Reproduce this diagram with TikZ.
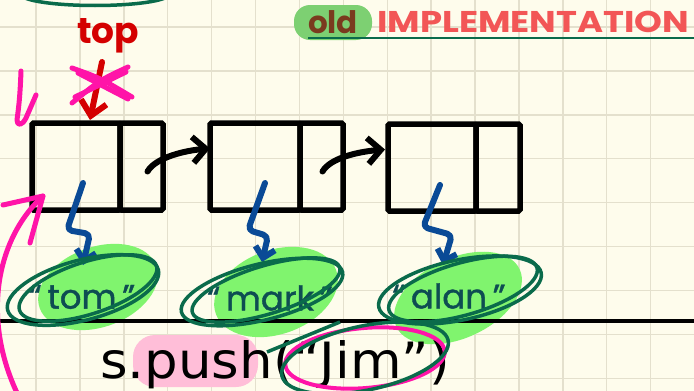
\documentclass[tikz,border=0pt]{standalone}
\usepackage{fontspec}
\usepackage{graphicx}
\setmainfont{DejaVu Sans}
\newfontfamily\hand{Poppins}
\newfontfamily\handm[FakeBold=1.2]{Poppins}
\usetikzlibrary{arrows.meta}
\definecolor{bg}{HTML}{FEFCEC}
\definecolor{gridc}{HTML}{E4E0CD}
\definecolor{redtop}{HTML}{D40000}
\definecolor{hotpink}{HTML}{FF14A8}
\definecolor{penblue}{HTML}{0A4A96}
\definecolor{dkgreen}{HTML}{0A6B4B}
\definecolor{ltgreen}{HTML}{80F46E}
\definecolor{teal}{HTML}{0E4D52}
\definecolor{salmon}{HTML}{F25656}
\definecolor{brownold}{HTML}{7A3B1E}
\definecolor{oldgreen}{HTML}{7DD072}
\definecolor{pinkhl}{HTML}{FFBED8}
\tikzset{
  gridline/.style={draw=gridc, line width=1.4pt},
  cell/.style={draw=black, line width=5.5pt, minimum height=87pt, inner sep=0pt, outer sep=0pt, rounded corners=1.5pt},
  pen/.style={line width=6pt, line cap=round, line join=round},
  blkarrow/.style={pen, draw=black, -{Straight Barb[length=13pt,width=26pt]}},
  bluearrow/.style={pen, draw=penblue, rounded corners=5pt, -{Straight Barb[length=10pt,width=20pt]}},
  lbl/.style={text=teal, inner sep=0pt, font=\handm\fontsize{34}{34}\selectfont},
  ring/.style={draw=dkgreen, line width=3.5pt},
  pinkpen/.style={draw=hotpink, line width=5pt, line cap=round, line join=round},
}
\begin{document}
\begin{tikzpicture}[x=1pt,y=-1pt]
\useasboundingbox (0,0) rectangle (694,391);
\fill[bg] (0,0) rectangle (694,391);
\begin{scope}
\clip (0,0) rectangle (694,391);
\foreach \i in {0,...,15} \draw[gridline] ({36+43.9*\i},0) -- ({36+43.9*\i},391);
\foreach \j in {0,...,8} \draw[gridline] (0,{27+43.9*\j}) -- (694,{27+43.9*\j});

% top arc
\draw[dkgreen, line width=3.5pt] (25,-2) .. controls (50,8) and (140,8) .. (165,-2);

% title
\fill[oldgreen, rounded corners=16pt] (294,5) rectangle (372,40);
\node[text=brownold, inner sep=0pt, font=\hand\bfseries\fontsize{31}{31}\selectfont] (old) at (333,22) {old};
\node[text=salmon, inner sep=0pt, anchor=west, font=\hand\bfseries\fontsize{30}{30}\selectfont] (impl) at (377,22) {\scalebox{1.18}[1]{IMPLEMENTATION}};
\draw[dkgreen, line width=1.8pt] (308,38) -- (694,38);

% top label
\node[text=redtop, inner sep=0pt, font=\hand\bfseries\fontsize{36}{36}\selectfont] (top) at (108,36) {top};

% green blobs
\fill[ltgreen, rotate around={20:(98,287)}] (98,287) ellipse [x radius=62, y radius=40];
\fill[ltgreen, rotate around={20:(276,292)}] (276,292) ellipse [x radius=64, y radius=42];
\fill[ltgreen, rotate around={25:(458,298)}] (458,298) ellipse [x radius=68, y radius=40];

% baseline
\draw[black, line width=4pt] (0,321) -- (694,321);

% push highlight
\fill[pinkhl, rounded corners=22pt] (133,335) rectangle (258,387);

% boxes
\node[cell, minimum width=88pt] (d1) at (76,166.5) {};
\node[cell, minimum width=43pt, anchor=west] (n1) at (d1.east) {};
\node[cell, minimum width=90pt] (d2) at (255,166.5) {};
\node[cell, minimum width=43pt, anchor=west] (n2) at (d2.east) {};
\node[cell, minimum width=88pt] (d3) at (432,167.5) {};
\node[cell, minimum width=44pt, anchor=west] (n3) at (d3.east) {};

% labels
\node[lbl] (tom) at (82,297) {“\,tom\,”};
\node[lbl] (mark) at (270,298) {“\,mark\,”};
\node[lbl] (alan) at (449,296) {“\,alan\,”};

% bottom text
\node[anchor=base west, inner sep=0pt, font=\fontsize{50}{50}\selectfont] (push) at (100,378) {\scalebox{1.06}[1]{s.push(“Jim”)}};

% next arrows
\draw[blkarrow] ([shift={(6,5)}]n1.center) .. controls +(8,-14) and +(-25,2) .. ([shift={(0,-18)}]d2.west);
\draw[blkarrow] ([shift={(1,5)}]n2.center) .. controls +(8,-14) and +(-25,2) .. ([shift={(-3,-18)}]d3.west);

% blue squiggles
\draw[bluearrow] ([shift={(7,16.5)}]d1.center) -- (67,230) -- (90,234) -- ([shift={(1,-32)}]tom.center);
\draw[bluearrow] ([shift={(10,16.5)}]d2.center) -- (248,230) -- (268,236) -- ([shift={(-8,-36)}]mark.center);
\draw[bluearrow] ([shift={(8,17.5)}]d3.center) -- (423,227) -- (452,235) -- ([shift={(-6,-31)}]alan.center);

% green rings
\draw[ring, rotate around={15:(83,290)}] (83,290) ellipse [x radius=78, y radius=30];
\draw[ring, rotate around={18:(88,288)}] (88,288) ellipse [x radius=72, y radius=26];
\draw[ring, rotate around={14:(262,292)}] (262,292) ellipse [x radius=83, y radius=28];
\draw[ring, rotate around={17:(266,290)}] (266,290) ellipse [x radius=77, y radius=24];
\draw[ring, rotate around={12:(460,290)}] (460,290) ellipse [x radius=83, y radius=30];
\draw[ring, rotate around={16:(463,289)}] (463,289) ellipse [x radius=77, y radius=26];
\draw[hotpink, line width=4pt, rotate around={5:(365,358)}] (365,358) ellipse [x radius=80, y radius=30];
\draw[ring, rotate around={12:(365,358)}] (365,358) ellipse [x radius=85, y radius=32];
\draw[ring] (267,352) -- (340,322);

% red top arrow
\draw[pen, draw=redtop, -{Straight Barb[length=14pt,width=26pt]}] ([shift={(-6,26)}]top.center) -- ([shift={(14,-3)}]d1.north);

% pink X
\draw[pinkpen] (72,68) .. controls (100,78) .. (132,97);
\draw[pinkpen] (78,73) -- (128,99);
\draw[pinkpen] (128,67) .. controls (100,80) .. (72,103);
\draw[pinkpen] (126,72) -- (75,97);

% pink small arrow
\draw[pinkpen] (21,71) .. controls (20,100) and (18,112) .. (17,120) .. controls (17,126) and (22,126) .. (26,118) -- (36,95);

% pink big arc
\coordinate (ptip) at (43,196);
\draw[pinkpen] (18,395) .. controls (-18,320) and (-5,240) .. (ptip);
\draw[pinkpen] (3,205) -- (ptip) -- (30,243);
\end{scope}
\end{tikzpicture}
\end{document}
